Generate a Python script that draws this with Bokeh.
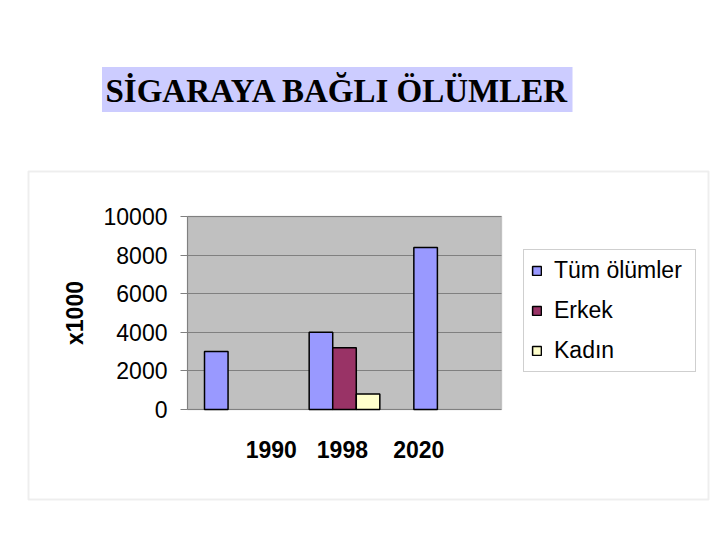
from bokeh.embed import file_html
from bokeh.resources import INLINE
from bokeh.plotting import figure
from bokeh.models import (ColumnDataSource, FixedTicker, Range1d, Label,
                          BoxAnnotation)
from bokeh.transform import dodge

nan = float("nan")

# data
years = ["1990", "1998", "2020"]
tum_olumler = [3000, 4000, 8400]
erkek = [nan, 3200, nan]
kadin = [nan, 800, nan]
y_ticks = [0, 2000, 4000, 6000, 8000, 10000]
title_text = "SİGARAYA BAĞLI ÖLÜMLER"

# where the year labels sit under the chart (they are not centred on the groups)
label_pos = [0.30, 0.98, 1.71]

# page layout in pixels
W, H = 712, 532
area_l, area_r, area_t, area_b = 187, 501, 216, 409   # grey plot area
x0, x1 = -0.5, 2.5
y0, y1 = 0, 10000

# the frame covers the whole canvas, so work out ranges that put the
# plot area where it belongs
kx = (x1 - x0) / (area_r - area_l)
ky = (y1 - y0) / (area_b - area_t)
x_range = Range1d(x0 - area_l * kx, x1 + (W - area_r) * kx)
y_range = Range1d(y0 - (H - area_b) * ky, y1 + area_t * ky)

source = ColumnDataSource(data=dict(
    x=list(range(len(years))),
    tum=tum_olumler,
    erkek=erkek,
    kadin=kadin,
))

p = figure(width=W, height=H, output_backend="svg", toolbar_location=None,
           x_range=x_range, y_range=y_range, min_border=0)
p.extra_x_ranges = {"px": Range1d(0, W)}
p.extra_y_ranges = {"px": Range1d(H, 0)}

p.background_fill_color = "white"
p.border_fill_color = "white"
p.outline_line_color = None

# grey plot area
p.add_layout(BoxAnnotation(left=x0, right=x1, bottom=y0, top=y1,
                           fill_color="#c0c0c0", fill_alpha=1,
                           line_color="#808080", line_width=1.5, level="image"))

bw = 0.225
p.vbar(x=dodge('x', -bw, range=p.x_range), top='tum', width=bw, source=source,
       fill_color="#9999ff", line_color="black", line_width=1.5,
       legend_label="Tüm ölümler")
p.vbar(x=dodge('x', 0, range=p.x_range), top='erkek', width=bw, source=source,
       fill_color="#993366", line_color="black", line_width=1.5,
       legend_label="Erkek")
p.vbar(x=dodge('x', bw, range=p.x_range), top='kadin', width=bw, source=source,
       fill_color="#ffffcc", line_color="black", line_width=1.5,
       legend_label="Kadın")

# grid
p.xgrid.visible = False
p.ygrid.ticker = FixedTicker(ticks=y_ticks)
p.ygrid.bounds = (y0, y1)
p.ygrid.cross_bounds = (x0, x1)
p.ygrid.grid_line_color = "#808080"
p.ygrid.grid_line_width = 1

# y axis
p.yaxis.fixed_location = x0
p.yaxis.bounds = (y0, y1)
p.yaxis.ticker = FixedTicker(ticks=y_ticks)
p.yaxis.axis_line_color = "#808080"
p.yaxis.major_tick_line_color = "#808080"
p.yaxis.major_tick_out = 7
p.yaxis.major_tick_in = 0
p.yaxis.minor_tick_line_color = None
p.yaxis.major_label_text_font = "Liberation Sans"
p.yaxis.major_label_text_font_size = "23px"
p.yaxis.major_label_text_color = "black"
p.yaxis.major_label_standoff = 13
p.yaxis.axis_label = "x1000"
p.yaxis.axis_label_text_font = "Liberation Sans"
p.yaxis.axis_label_text_font_size = "23px"
p.yaxis.axis_label_text_font_style = "bold"
p.yaxis.axis_label_text_color = "black"
p.yaxis.axis_label_standoff = 13

# x axis
p.xaxis.fixed_location = y0
p.xaxis.bounds = (x0, x1)
p.xaxis.ticker = FixedTicker(ticks=label_pos)
p.xaxis.major_label_overrides = {label_pos[i]: years[i] for i in range(len(years))}
p.xaxis.axis_line_color = None
p.xaxis.major_tick_line_color = None
p.xaxis.minor_tick_line_color = None
p.xaxis.major_tick_out = 0
p.xaxis.major_tick_in = 0
p.xaxis.major_label_text_font = "Liberation Sans"
p.xaxis.major_label_text_font_size = "23px"
p.xaxis.major_label_text_font_style = "bold"
p.xaxis.major_label_text_color = "black"
p.xaxis.major_label_standoff = 31

# legend
p.legend.location = (523, H - 372)
p.legend.padding = 7
p.legend.margin = 0
p.legend.spacing = 13
p.legend.glyph_width = 11
p.legend.glyph_height = 11
p.legend.label_height = 22
p.legend.label_width = 134
p.legend.label_standoff = 12
p.legend.label_text_font = "Liberation Sans"
p.legend.label_text_font_size = "23px"
p.legend.label_text_color = "black"
p.legend.border_line_color = "#a0a0a0"
p.legend.border_line_width = 1
p.legend.background_fill_color = "white"
p.legend.background_fill_alpha = 1

# outer chart border and the title box (pixel ranges)
p.add_layout(BoxAnnotation(left=28, right=708, top=171, bottom=499,
                           x_range_name="px", y_range_name="px",
                           fill_alpha=0, line_color="#c8c8c8", line_width=2,
                           level="image"))
p.add_layout(BoxAnnotation(left=101.5, right=572, top=66.5, bottom=111.5,
                           x_range_name="px", y_range_name="px",
                           fill_color="#ccccff", fill_alpha=1, line_color=None,
                           level="image"))
p.add_layout(Label(x=105, y=90.5, x_range_name="px", y_range_name="px",
                   text=title_text,
                   text_font="Liberation Serif", text_font_size="33px",
                   text_font_style="bold", text_color="black",
                   text_baseline="alphabetic", text_align="left"))

open("out.html", "w").write(file_html(p, INLINE))
